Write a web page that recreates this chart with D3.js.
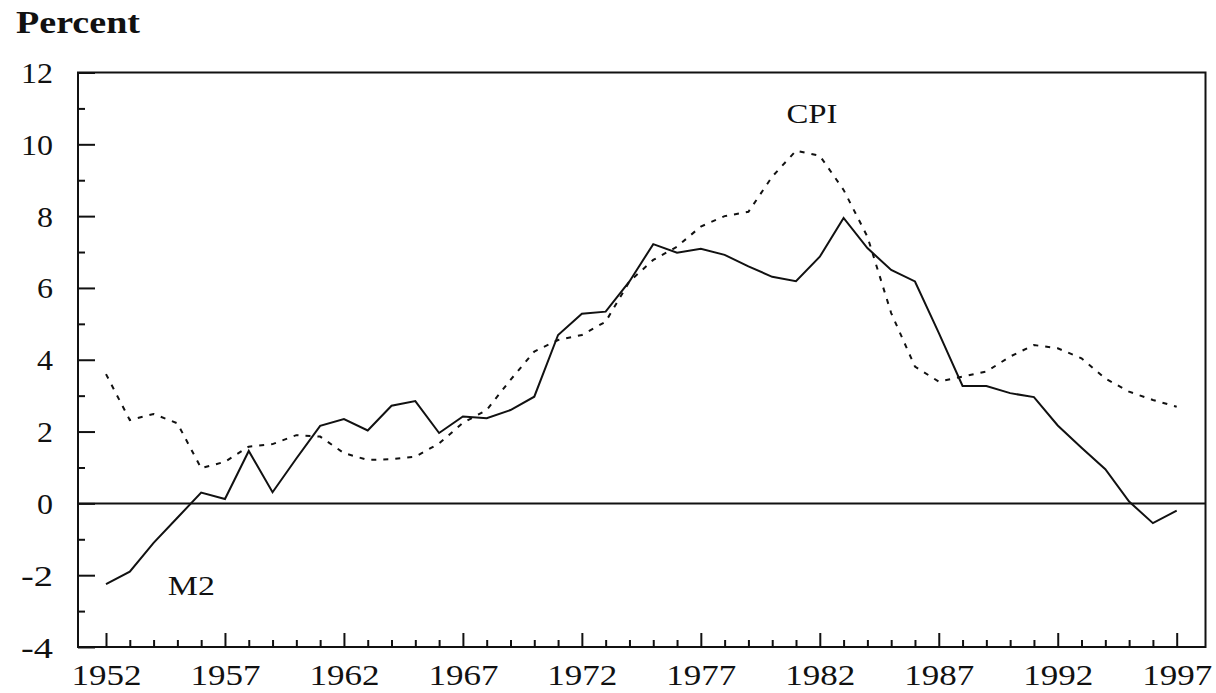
<!DOCTYPE html>
<html><head><meta charset="utf-8">
<script src="https://cdn.jsdelivr.net/npm/d3@7"></script>
<style>
html,body{margin:0;padding:0;background:#fff;}
svg{display:block;}
</style></head>
<body>
<svg id="chart" width="1216" height="693"></svg>
<script>
const years = d3.range(1952, 1998);
const m2 = [-2.25,-1.9,-1.1,-0.4,0.3,0.12,1.46,0.31,1.25,2.16,2.35,2.03,2.72,2.85,1.96,2.42,2.37,2.6,2.97,4.69,5.28,5.34,6.18,7.22,6.98,7.09,6.92,6.6,6.31,6.19,6.87,7.95,7.11,6.5,6.18,4.75,3.27,3.27,3.07,2.96,2.17,1.55,0.95,0.05,-0.55,-0.2];
const cpi = [3.6,2.32,2.49,2.23,0.98,1.16,1.58,1.65,1.9,1.86,1.4,1.21,1.23,1.3,1.67,2.24,2.6,3.44,4.23,4.55,4.69,5.06,6.18,6.78,7.15,7.71,8.0,8.12,9.1,9.82,9.68,8.73,7.43,5.3,3.81,3.39,3.53,3.67,4.09,4.41,4.32,4.04,3.48,3.11,2.88,2.69];
const yMajor = [-4,-2,0,2,4,6,8,10,12];
const yMinor = [-3,-1,1,3,5,7,9,11];
const xMajor = [1952,1957,1962,1967,1972,1977,1982,1987,1992,1997];
const yLabel = "Percent";
const seriesLabels = [{name:"CPI", year:1980.6, value:10.6}, {name:"M2", year:1954.6, value:-2.55}];

const svg = d3.select("#chart");
const box = {left:78, right:1205.5, top:72.5, bottom:647};
const x = d3.scaleLinear().domain([1952,1997]).range([106,1176.7]);
const y = d3.scaleLinear().domain([-4,12]).range([box.bottom, box.top]);
const font = "'Liberation Serif','DejaVu Serif',serif";

// frame
svg.append("rect").attr("x",box.left).attr("y",box.top)
  .attr("width",box.right-box.left).attr("height",box.bottom-box.top)
  .attr("fill","none").attr("stroke","#111").attr("stroke-width",2);

// y axis major
const gy = svg.append("g").attr("transform",`translate(${box.left},0)`)
  .call(d3.axisLeft(y).tickValues(yMajor).tickSize(-17).tickFormat(d=>String(d)));
gy.select(".domain").remove();
gy.selectAll("line").attr("stroke","#111").attr("stroke-width",2);
gy.selectAll("text").attr("font-family",font).attr("font-size",29).attr("fill","#111")
  .attr("dy",null).attr("y",10).attr("x",-25)
  .attr("textLength",function(d){return String(d).length*16;}).attr("lengthAdjust","spacingAndGlyphs");
const gy2 = svg.append("g").attr("transform",`translate(${box.left},0)`)
  .call(d3.axisLeft(y).tickValues(yMinor).tickSize(-7).tickFormat(""));
gy2.select(".domain").remove();
gy2.selectAll("line").attr("stroke","#111").attr("stroke-width",2);

// x axis
const gx = svg.append("g").attr("transform",`translate(0,${box.bottom})`)
  .call(d3.axisBottom(x).tickValues(xMajor).tickSize(-14).tickFormat(d3.format("d")));
gx.select(".domain").remove();
gx.selectAll("line").attr("stroke","#111").attr("stroke-width",2);
gx.selectAll("text").attr("font-family",font).attr("font-size",29).attr("fill","#111")
  .attr("dy",null).attr("y",38)
  .attr("textLength",70).attr("lengthAdjust","spacingAndGlyphs");
const gx2 = svg.append("g").attr("transform",`translate(0,${box.bottom})`)
  .call(d3.axisBottom(x).tickValues(years.filter(v=>!xMajor.includes(v))).tickSize(-7).tickFormat(""));
gx2.select(".domain").remove();
gx2.selectAll("line").attr("stroke","#111").attr("stroke-width",2);

// zero line
svg.append("line").attr("x1",box.left).attr("x2",box.right)
  .attr("y1",y(0)).attr("y2",y(0)).attr("stroke","#111").attr("stroke-width",2);

const line = d3.line().x((d,i)=>x(years[i])).y(d=>y(d));
svg.append("path").datum(cpi).attr("d",line).attr("fill","none")
  .attr("stroke","#111").attr("stroke-width",2).attr("stroke-dasharray","5,7");
svg.append("path").datum(m2).attr("d",line).attr("fill","none")
  .attr("stroke","#111").attr("stroke-width",2);

// labels
svg.append("text").attr("x",16).attr("y",33).text(yLabel)
  .attr("font-family",font).attr("font-weight","bold").attr("font-size",31).attr("fill","#111")
  .attr("textLength",124).attr("lengthAdjust","spacingAndGlyphs");
svg.selectAll(".slab").data(seriesLabels).enter().append("text")
  .attr("x",d=>x(d.year)).attr("y",d=>y(d.value))
  .attr("font-family",font).attr("font-size",27).attr("fill","#111")
  .attr("textLength",d=>d.name==="CPI"?51:47).attr("lengthAdjust","spacingAndGlyphs")
  .text(d=>d.name);
</script>
</body></html>
